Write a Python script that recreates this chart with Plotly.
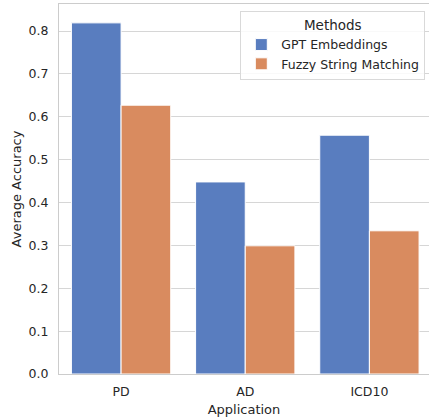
import plotly.graph_objects as go

categories = ["PD", "AD", "ICD10"]
gpt_values = [0.819, 0.448, 0.557]
fuzzy_values = [0.627, 0.299, 0.334]
series_names = ["GPT Embeddings", "Fuzzy String Matching"]
y_ticks = [0.0, 0.1, 0.2, 0.3, 0.4, 0.5, 0.6, 0.7, 0.8]

blue = "#597dbf"
orange = "#d98b5f"
txt = "#262626"
grid = "#d6d6d6"
font = "DejaVu Sans"

fig = go.Figure()
fig.add_trace(go.Bar(x=categories, y=gpt_values, name=series_names[0],
                     marker=dict(color=blue, line=dict(color="white", width=1))))
fig.add_trace(go.Bar(x=categories, y=fuzzy_values, name=series_names[1],
                     marker=dict(color=orange, line=dict(color="white", width=1))))

fig.update_layout(
    width=429, height=419,
    margin=dict(l=59, r=0, t=4, b=45, autoexpand=False),
    paper_bgcolor="white", plot_bgcolor="white",
    font=dict(family=font, color=txt, size=12.5),
    barmode="group", bargap=0.2, bargroupgap=0,
    showlegend=True,
    legend=dict(
        title=dict(text="Methods", side="top center", font=dict(size=13.5, color=txt)),
        x=0.99, y=0.98, xanchor="right", yanchor="top",
        bgcolor="rgba(255,255,255,0.85)", bordercolor="#d9d9d9", borderwidth=1,
        font=dict(size=12.5, color=txt), itemwidth=30,
        tracegroupgap=0,
    ),
    xaxis=dict(
        range=[-0.5, 2.48], showgrid=False, showline=True, linecolor="#cccccc", linewidth=1.2,
        mirror=True, ticks="outside", ticklen=6, tickcolor="rgba(0,0,0,0)",
        title=dict(text="Application", font=dict(size=13, color=txt), standoff=6),
        tickfont=dict(size=12.5, color=txt),
    ),
    yaxis=dict(
        range=[0, 0.863], tickvals=y_ticks, ticktext=[f"{v:.1f}" for v in y_ticks],
        showgrid=True, gridcolor=grid, gridwidth=1,
        showline=True, linecolor="#cccccc", linewidth=1.2, mirror=True,
        zeroline=False,
        ticks="outside", ticklen=7, tickcolor="rgba(0,0,0,0)",
        title=dict(text="Average Accuracy", font=dict(size=13, color=txt), standoff=3),
        tickfont=dict(size=12.5, color=txt),
    ),
)

fig.write_html("out.html", config={"displayModeBar": False},
               post_script="document.body.style.margin='0';document.body.style.overflow='hidden';")
